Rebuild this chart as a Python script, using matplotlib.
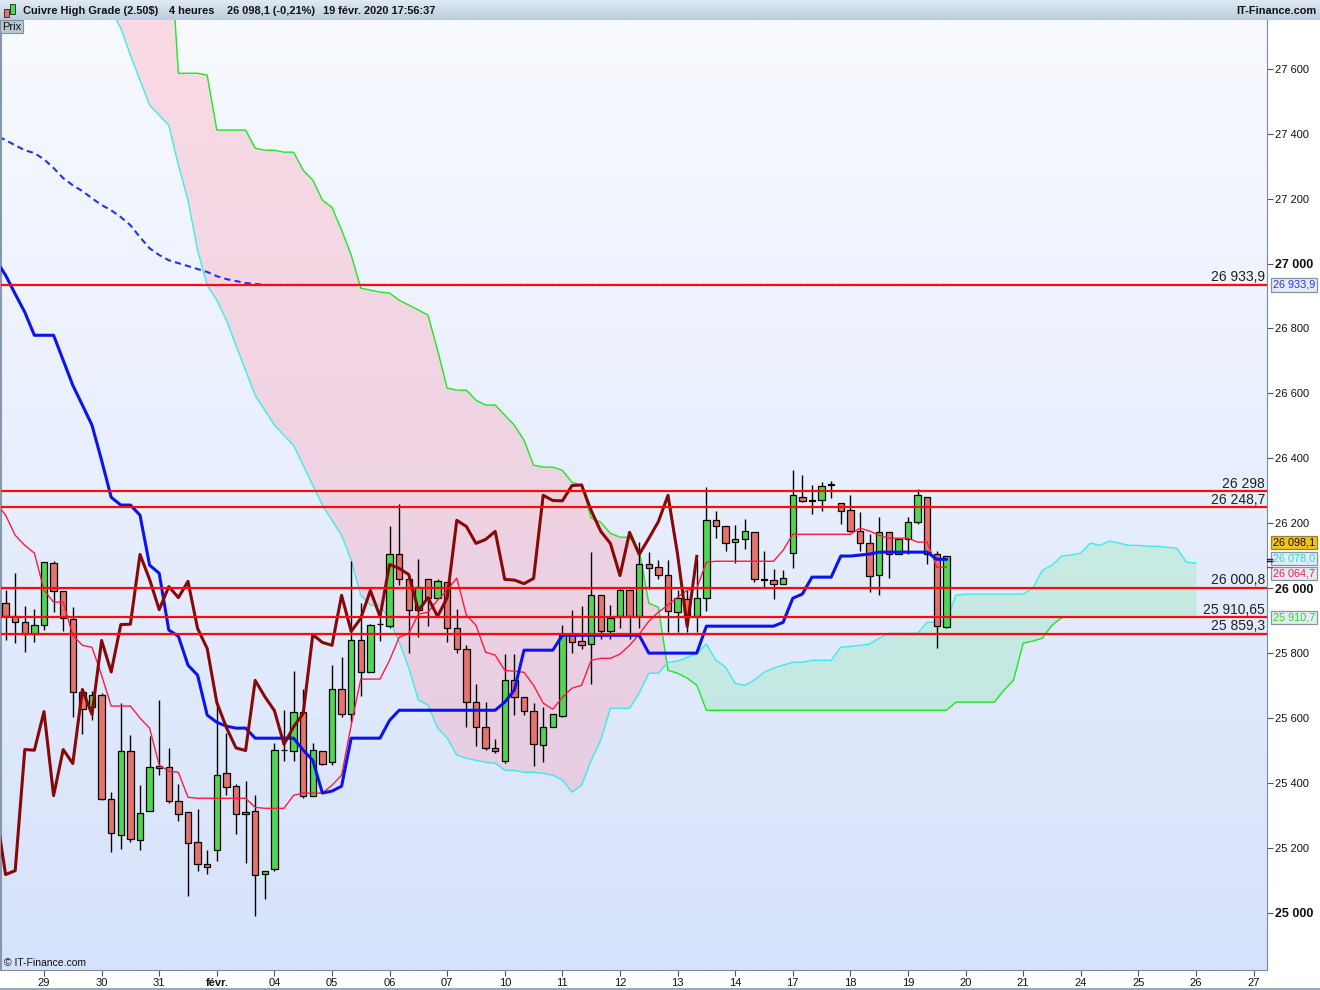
import numpy as np
import matplotlib
matplotlib.use('Agg')
import matplotlib.pyplot as plt
from matplotlib.transforms import blended_transform_factory
from matplotlib.patches import Rectangle
from matplotlib.lines import Line2D

plt.rcParams['font.family'] = ['Liberation Sans', 'DejaVu Sans']

# ---------------- data (4h candles, bar index 0..98) ----------------
opens = [25953, 25915, 25897, 25860, 25888, 26079, 25990, 25904, 25679, 25633,
         25670, 25352, 25241, 25500, 25223, 25315, 25453, 25448, 25343, 25312,
         25217, 25149, 25195, 25432, 25392, 25306, 25315, 25121, 25134, 25503,
         25500, 25620, 25361, 25500, 25466, 25688, 25611, 25839, 25742, 25891,
         25885, 26104, 26027, 25934, 26027, 25971, 26018, 25876, 25814, 25648,
         25571, 25509, 25469, 25716, 25666, 25623, 25516, 25573, 25607, 25855,
         25836, 25827, 25978, 25867, 25913, 25993, 25913, 26073, 26064, 26042,
         25928, 25968, 25913, 25971, 26209, 26190, 26141, 26153, 26172, 26027,
         26024, 26014, 26107, 26282, 26270, 26273, 26319, 26261, 26242, 26175,
         26138, 26042, 26172, 26104, 26153, 26205, 26282, 26104, 25879]
highs = [25994, 26046, 25945, 25935, 26082, 26083, 25991, 25941, 25684, 25684,
         25676, 25371, 25645, 25547, 25393, 25544, 25655, 25509, 25396, 25312,
         25319, 25193, 25645, 25554, 25398, 25406, 25362, 25130, 25522, 25624,
         25744, 25688, 25522, 25500, 25763, 25788, 26083, 25953, 25891, 25927,
         26191, 26259, 26030, 26091, 26027, 26027, 26018, 25937, 25824, 25706,
         25648, 25536, 25796, 25796, 25666, 25645, 25634, 25614, 25886, 25932,
         25945, 26112, 25978, 25947, 26005, 25993, 26141, 26110, 26088, 26088,
         25993, 25993, 26091, 26311, 26237, 26190, 26196, 26212, 26172, 26113,
         26058, 26055, 26363, 26350, 26319, 26326, 26329, 26261, 26286, 26236,
         26168, 26218, 26172, 26156, 26218, 26307, 26282, 26116, 26100]
lows = [25840, 25831, 25803, 25835, 25871, 25927, 25868, 25602, 25552, 25593,
        25349, 25188, 25198, 25219, 25195, 25315, 25424, 25339, 25283, 25052,
        25129, 25121, 25160, 25362, 25244, 25155, 24991, 25044, 25130, 25468,
        25468, 25355, 25361, 25454, 25454, 25604, 25588, 25668, 25742, 25838,
        25876, 26009, 25799, 25850, 25883, 25971, 25835, 25799, 25571, 25514,
        25501, 25493, 25463, 25608, 25608, 25452, 25464, 25573, 25604, 25799,
        25814, 25706, 25845, 25842, 25876, 25845, 25876, 25996, 26027, 25864,
        25864, 25864, 25864, 25931, 26156, 26116, 26079, 26122, 26018, 26004,
        25968, 26014, 26061, 26264, 26230, 26239, 26279, 26199, 26172, 26116,
        25987, 25978, 26030, 26104, 26104, 26199, 26073, 25817, 25876]
closes = [25915, 25897, 25860, 25888, 26082, 25990, 25907, 25679, 25629, 25670,
          25352, 25246, 25497, 25226, 25309, 25448, 25445, 25346, 25306, 25214,
          25152, 25140, 25426, 25389, 25303, 25312, 25118, 25130, 25503, 25501,
          25620, 25361, 25503, 25460, 25688, 25611, 25839, 25742, 25888, 25889,
          26104, 26027, 25934, 26005, 25971, 26021, 25876, 25814, 25648, 25571,
          25508, 25500, 25716, 25666, 25623, 25519, 25573, 25614, 25857, 25833,
          25824, 25978, 25867, 25907, 25993, 25913, 26073, 26061, 26042, 25931,
          25971, 25913, 25971, 26209, 26190, 26138, 26150, 26175, 26027, 26025,
          26014, 26030, 26286, 26270, 26269, 26316, 26318, 26239, 26175, 26138,
          26039, 26172, 26104, 26153, 26205, 26286, 26104, 25882, 26098.1]

# indicator lines, bar index -1..98 (first value is the bar just off the left edge)
tenkan = [26262,
          26225, 26163, 26132, 26108, 25994, 25957, 25957, 25855, 25824, 25818,
          25732, 25637, 25637, 25637, 25600, 25569, 25455, 25436, 25433, 25356,
          25353, 25353, 25353, 25353, 25353, 25353, 25325, 25322, 25322, 25322,
          25362, 25369, 25369, 25369, 25393, 25424, 25578, 25720, 25720, 25720,
          25778, 25849, 25861, 25920, 25926, 25963, 25994, 26031, 25917, 25886,
          25803, 25794, 25747, 25744, 25741, 25701, 25646, 25627, 25664, 25692,
          25701, 25778, 25784, 25784, 25797, 25824, 25858, 25898, 25926, 25948,
          25972, 25994, 26000, 26080, 26083, 26083, 26083, 26083, 26083, 26083,
          26083, 26117, 26166, 26166, 26166, 26166, 26166, 26166, 26166, 26185,
          26176, 26163, 26154, 26154, 26154, 26142, 26142, 26064.7, 26064.7]

kijun = [27010,
         26964, 26906, 26850, 26779, 26779, 26779, 26702, 26625, 26564, 26502,
         26394, 26280, 26256, 26256, 26225, 26071, 26046, 25871, 25852, 25763,
         25732, 25609, 25587, 25575, 25569, 25569, 25538, 25538, 25538, 25538,
         25538, 25501, 25470, 25369, 25375, 25390, 25538, 25538, 25538, 25538,
         25593, 25624, 25624, 25624, 25624, 25624, 25624, 25624, 25624, 25624,
         25624, 25624, 25649, 25686, 25809, 25809, 25809, 25809, 25855, 25855,
         25855, 25855, 25855, 25855, 25855, 25855, 25855, 25800, 25800, 25800,
         25800, 25800, 25800, 25883, 25883, 25883, 25883, 25883, 25883, 25883,
         25883, 25895, 25969, 25982, 26034, 26034, 26034, 26099, 26099, 26102,
         26105, 26111, 26111, 26111, 26111, 26111, 26111, 26089, 26089]

dashed_avg = [27395,
              27380, 27364, 27349, 27340, 27321, 27294, 27263, 27241, 27223, 27201,
              27180, 27164, 27143, 27118, 27081, 27047, 27026, 27010, 27001, 26992,
              26983, 26974, 26961, 26952, 26946, 26940, 26937] + [26933.9] * 72

# Senkou spans (bar index 0..124, projected 26 bars ahead)
span_a = [27900, 27900, 27900, 27900, 27900, 27900, 27900, 27900, 27900, 27900,
          27900, 27780, 27725, 27642, 27565, 27488, 27457, 27426, 27303, 27195,
          27041, 26933, 26887, 26825, 26748, 26671, 26594, 26548, 26502, 26471,
          26440, 26379, 26317, 26256, 26209, 26163, 26086, 25978, 25948, 25948,
          25901, 25834, 25754, 25655, 25640, 25569, 25538, 25486, 25476, 25470,
          25464, 25461, 25439, 25439, 25433, 25433, 25430, 25424, 25409, 25372,
          25393, 25470, 25532, 25630, 25630, 25630, 25677, 25738, 25738, 25772,
          25775, 25787, 25800, 25828, 25778, 25757, 25707, 25701, 25717, 25741,
          25754, 25763, 25772, 25772, 25778, 25778, 25778, 25818, 25821, 25824,
          25828, 25846, 25861, 25861, 25861, 25861, 25895, 25895, 25898, 25978,
          25982, 25982, 25982, 25982, 25982, 25982, 25982, 26000, 26055, 26071,
          26099, 26102, 26108, 26139, 26132, 26145, 26139, 26132, 26132, 26129,
          26129, 26126, 26123, 26080, 26078]
span_b = [28200, 28200, 28200, 28200, 28200, 28200, 28200, 28200, 28200, 28200,
          28200, 28200, 28200, 28200, 28200, 28200, 28200, 28050, 27586, 27586,
          27586, 27580, 27411, 27411, 27411, 27411, 27355, 27349, 27349, 27343,
          27343, 27287, 27257, 27195, 27173, 27103, 27026, 26924, 26918, 26912,
          26909, 26887, 26872, 26857, 26841, 26733, 26616, 26610, 26610, 26579,
          26564, 26564, 26533, 26502, 26456, 26379, 26373, 26373, 26363, 26326,
          26317, 26216, 26203, 26169, 26157, 26157, 26117, 25954, 25941, 25747,
          25738, 25723, 25701, 25624, 25624, 25624, 25624, 25624, 25624, 25624,
          25624, 25624, 25624, 25624, 25624, 25624, 25624, 25624, 25624, 25624,
          25624, 25624, 25624, 25624, 25624, 25624, 25624, 25624, 25624, 25649,
          25649, 25649, 25649, 25649, 25686, 25717, 25831, 25837, 25846, 25886,
          25909, 25910.7, 25910.7, 25910.7, 25910.7, 25910.7, 25910.7, 25910.7,
          25910.7, 25910.7, 25910.7, 25910.7, 25910.7, 25910.7, 25910.7]

levels = [26933.9, 26298, 26248.7, 26000.8, 25910.65, 25859.3]
level_labels = ['26 933,9', '26 298', '26 248,7', '26 000,8', '25 910,65', '25 859,3']

day_tick_idx = [4, 10, 16, 22, 28, 34, 40, 46, 52, 58, 64, 70, 76, 82, 88, 94,
                100, 106, 112, 118, 124, 130]
day_labels = ['29', '30', '31', 'févr.', '04', '05', '06', '07', '10', '11', '12',
              '13', '14', '17', '18', '19', '20', '21', '24', '25', '26', '27']
price_ticks = [25000, 25200, 25400, 25600, 25800, 26000, 26200, 26400, 26600,
               26800, 27000, 27200, 27400, 27600]

title_parts = ['Cuivre High Grade (2.50$)', '4 heures', '26 098,1 (-0,21%)',
               '19 févr. 2020 17:56:37']

# ---------------- figure ----------------
W, H = 1320, 990
fig = plt.figure(figsize=(W / 100, H / 100), dpi=100, facecolor='white')
ax = fig.add_axes([1 / W, 20 / H, 1266 / W, 950 / H])

# background gradient
grad = np.linspace(0, 1, 256)[:, None]
top_c = np.array([248, 250, 255]) / 255
bot_c = np.array([214, 226, 251]) / 255
img = top_c[None, None, :] * (1 - grad[:, :, None]) + bot_c[None, None, :] * grad[:, :, None]
ax.imshow(img, extent=[0, 1, 0, 1], transform=ax.transAxes, aspect='auto', zorder=0,
          interpolation='bilinear')

n = len(closes)
idx = np.arange(n)
lidx = np.arange(-1, n)
cidx = np.arange(len(span_a))
sa = np.array(span_a, dtype=float)
sb = np.array(span_b, dtype=float)

# cloud
ax.fill_between(cidx, sa, sb, where=sb >= sa, interpolate=True,
                color='#FF9CB0', alpha=0.33, lw=0, zorder=1)
ax.fill_between(cidx, sa, sb, where=sa > sb, interpolate=True,
                color='#7CE6A0', alpha=0.28, lw=0, zorder=1)
ax.plot(cidx, sb, color='#1EE81E', lw=1.0, zorder=2)
ax.plot(cidx, sa, color='#3CEBEB', lw=1.0, zorder=2)

# dashed average
ax.plot(lidx, dashed_avg, color='#2233EE', lw=1.5, ls=(0, (3, 2)), zorder=2)

# candles
o = np.array(opens, float); c = np.array(closes, float)
hi = np.array(highs, float); lo = np.array(lows, float)
up = c >= o
ax.vlines(idx, lo, hi, color='black', lw=1.0, zorder=3)
bottom = np.minimum(o, c)
height = np.maximum(np.abs(c - o), 1.5)
colors = np.where(up, '#4FD84F', '#E8726E')
ax.bar(idx, height, bottom=bottom, width=0.68, color=colors, edgecolor='black',
       linewidth=0.9, zorder=3.5)

# tenkan / kijun / chikou
ax.plot(lidx, tenkan, color='#FF1A40', lw=1.0, zorder=4)
ax.plot(lidx, kijun, color='#0A14F0', lw=2.2, zorder=5, solid_joinstyle='round')
chikou_x = np.arange(-1, n - 26)
ax.plot(chikou_x, closes[25:], color='#880808', lw=2.2, zorder=5, solid_joinstyle='round')

# horizontal levels
btrans = blended_transform_factory(ax.transAxes, ax.transData)
for lv, lab in zip(levels, level_labels):
    ax.axhline(lv, color='#FF0A0A', lw=1.6, zorder=6)
    ax.annotate(lab, xy=(1264 / 1266, lv), xycoords=btrans, xytext=(0, 2.6),
                textcoords='offset points', ha='right', va='baseline',
                fontsize=10, color='#202020', zorder=7, annotation_clip=False)

ax.set_xlim(-0.479, 131.4)
ax.set_ylim(24824, 27750)

# axes styling
ax.spines['top'].set_visible(False)
ax.spines['right'].set_color('#7A8C9C')
ax.spines['bottom'].set_color('#7A8C9C')
ax.spines['left'].set_color('#8898A8')
ax.spines['left'].set_linewidth(1.5)

ax.yaxis.tick_right()
ax.set_yticks(price_ticks)
ax.set_yticklabels([f"{v:,}".replace(',', ' ') for v in price_ticks])
ax.tick_params(axis='y', direction='out', length=4, width=0.8, pad=1.5,
               color='#505050', labelsize=8, labelcolor='#111111')
for t, v in zip(ax.get_yticklabels(), price_ticks):
    if v % 1000 == 0:
        t.set_fontweight('bold')
        t.set_fontsize(9)

ax.set_xticks(day_tick_idx)
ax.set_xticklabels(day_labels)
ax.tick_params(axis='x', direction='out', length=4, width=0.8, pad=2,
               color='#505050', labelsize=8, labelcolor='#111111')
for t, lab in zip(ax.get_xticklabels(), day_labels):
    if lab == 'févr.':
        t.set_fontweight('bold')

# value boxes on the right axis
def vbox(val, text, fc, tc, ec, dy=0):
    ax.annotate(text, xy=(1272 / 1266, val), xycoords=btrans, xytext=(0, dy),
                textcoords='offset points', ha='left', va='center', fontsize=7.8,
                color=tc, zorder=8, annotation_clip=False,
                bbox=dict(boxstyle='square,pad=0.15', fc=fc, ec=ec, lw=0.9))

vbox(26933.9, '26 933,9', '#E6ECF6', '#2233EE', '#8494A4')
vbox(26098.1, '26 098,1', '#F4C21C', '#111111', '#9A8030', dy=10)
vbox(26078.0, '26 078,0', '#E6ECF6', '#22DDDD', '#8494A4', dy=3)
vbox(26064.7, '26 064,7', '#E6ECF6', '#FF1A40', '#8494A4', dy=-4.8)
vbox(25910.7, '25 910,7', '#E6ECF6', '#22DD22', '#8494A4')

for val, col in [(26089, '#0A14F0'), (26085, '#111111'), (26064.7, '#FF1A40')]:
    ax.add_line(Line2D([1.0, 1.004], [val, val], transform=btrans, color=col,
                       lw=1.0, clip_on=False, zorder=8))

ax.text(3 / 1266, 7 / 950, '© IT-Finance.com', transform=ax.transAxes,
        fontsize=7.5, color='#111111', ha='left', va='center', zorder=8)

# title bar
tax = fig.add_axes([0, 970 / H, 1, 20 / H])
tg = np.linspace(0, 1, 64)[:, None]
t_top = np.array([224, 234, 244]) / 255
t_bot = np.array([186, 204, 222]) / 255
timg = t_top[None, None, :] * (1 - tg[:, :, None]) + t_bot[None, None, :] * tg[:, :, None]
tax.imshow(timg, extent=[0, 1, 0, 1], aspect='auto', interpolation='bilinear')
tax.set_xlim(0, 1); tax.set_ylim(0, 1)
tax.axis('off')

ty = 1 - 11 / H
for xp, txt in zip([23, 169, 227, 323], title_parts):
    fig.text(xp / W, ty, txt, fontsize=7.9, fontweight='bold', color='#111111',
             ha='left', va='center')
fig.text(1316 / W, ty, 'IT-Finance.com', fontsize=7.9, fontweight='bold',
         color='#111111', ha='right', va='center')

# title icon (two small candles)
fig.patches.append(Rectangle((4 / W, 1 - 17 / H), 5 / W, 8 / H, transform=fig.transFigure,
                             fc='#E8726E', ec='#202020', lw=0.6))
fig.patches.append(Rectangle((10 / W, 1 - 14 / H), 5 / W, 10 / H, transform=fig.transFigure,
                             fc='#4FD84F', ec='#202020', lw=0.6))

# "Prix" tab
fig.patches.append(Rectangle((0, 1 - 33 / H), 23 / W, 13 / H, transform=fig.transFigure,
                             fc='#B8C6D0', ec='#8090A0', lw=0.8, zorder=9))
fig.text(2 / W, 1 - 27 / H, 'Prix', fontsize=8, color='#111111', ha='left',
         va='center', zorder=10)

# bottom border line
fig.add_artist(Line2D([0, 1], [1.5 / H, 1.5 / H], transform=fig.transFigure,
                      color='#8898A8', lw=1.2))

fig.savefig('out.png', dpi=100, facecolor='white')
